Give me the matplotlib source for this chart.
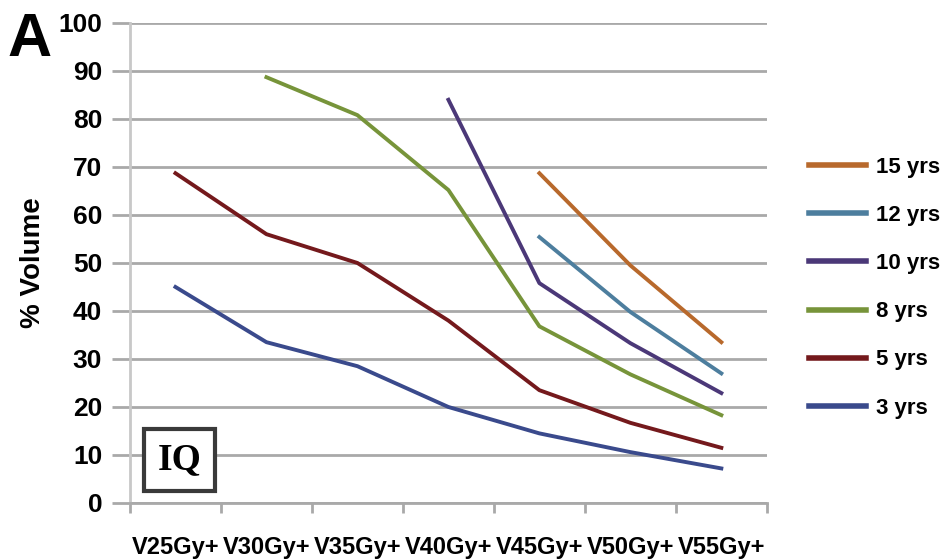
import numpy as np
import matplotlib.pyplot as plt

categories = ['V25Gy+', 'V30Gy+', 'V35Gy+', 'V40Gy+', 'V45Gy+', 'V50Gy+', 'V55Gy+']

# values per follow-up time, None where the curve has no point
yrs3 = [45, 33.5, 28.5, 20, 14.5, 10.6, 7.2]
yrs5 = [68.7, 56, 50, 38, 23.5, 16.7, 11.5]
yrs8 = [None, 88.7, 80.8, 65.2, 36.8, 26.8, 18.3]
yrs10 = [None, None, None, 84, 45.8, 33.3, 22.9]
yrs12 = [None, None, None, None, 55.4, 39.8, 27]
yrs15 = [None, None, None, None, 68.7, 49.5, 33.5]

series = [('15 yrs', yrs15, '#B8692C'),
          ('12 yrs', yrs12, '#4D7E9E'),
          ('10 yrs', yrs10, '#4B3878'),
          ('8 yrs', yrs8, '#77943A'),
          ('5 yrs', yrs5, '#74191C'),
          ('3 yrs', yrs3, '#3A4A8C')]

font = 'Liberation Sans'
grid_c = '#A9A9A9'

fig = plt.figure(figsize=(9.46, 5.59), dpi=100)
ax = fig.add_axes([0.1374, 0.1002, 0.8106 - 0.1374, 0.8587])

x = np.arange(len(categories))
for name, vals, col in series:
    v = np.array([np.nan if a is None else a for a in vals], dtype=float)
    ax.plot(x, v, color=col, lw=2.8, label=name)

ax.set_xlim(-0.5, 6.5)
ax.set_ylim(0, 100)
ax.set_yticks(np.arange(0, 101, 10))
ax.set_xticks(x)
ax.set_xticklabels(categories)
ax.set_xticks(np.arange(-0.5, 7, 1), minor=True)
ax.tick_params(axis='x', which='major', length=0, pad=24)
ax.tick_params(axis='x', which='minor', length=7, width=2, color=grid_c)
ax.tick_params(axis='y', length=13, width=2, color=grid_c, pad=7)
for lab in ax.get_xticklabels():
    lab.set_fontfamily(font)
    lab.set_fontweight('bold')
    lab.set_fontsize(17)
for lab in ax.get_yticklabels():
    lab.set_fontfamily(font)
    lab.set_fontweight('bold')
    lab.set_fontsize(19)

ax.grid(axis='y', color=grid_c, lw=2)
ax.set_axisbelow(True)
for s in ['top', 'right']:
    ax.spines[s].set_visible(False)
ax.spines['left'].set_color('#C8C8C8')
ax.spines['left'].set_linewidth(2)
ax.spines['bottom'].set_color(grid_c)
ax.spines['bottom'].set_linewidth(2)

ax.set_ylabel('% Volume', fontsize=20, fontweight='bold', fontfamily=font, labelpad=9)

fig.text(0.008, 0.9, 'A', fontsize=44, fontweight='bold', fontfamily=font)

ax.text(0.043, 0.09, 'IQ', transform=ax.transAxes, fontsize=27, fontweight='bold',
        fontfamily='Liberation Serif', ha='left', va='center',
        bbox=dict(boxstyle='square,pad=0.36', fc='white', ec='#3A3A3A', lw=3))

leg = fig.legend(loc='upper left', bbox_to_anchor=(0.834, 0.755), frameon=False,
                 prop={'family': font, 'weight': 'bold', 'size': 16},
                 handlelength=2.55, handletextpad=0.45, labelspacing=1.22)
for h in leg.get_lines():
    h.set_linewidth(4)

fig.savefig('out.png', dpi=100)
